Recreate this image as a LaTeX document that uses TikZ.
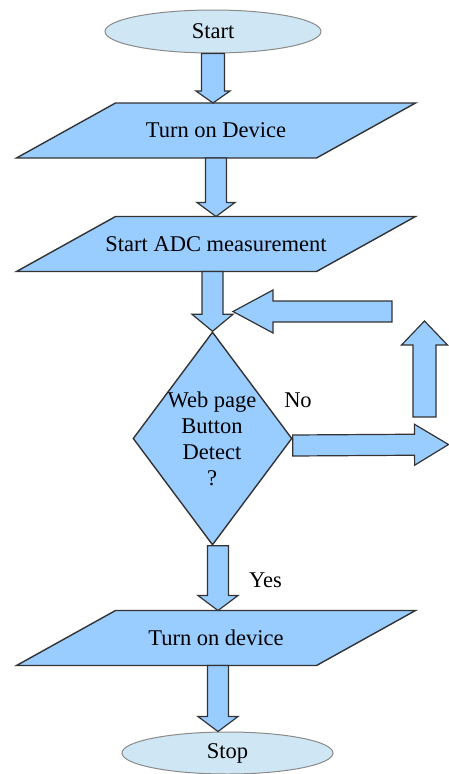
\documentclass[tikz,border=0pt]{standalone}
\usepackage{fontspec}
\setmainfont{Liberation Serif}
\newfontfamily\flowfont{Liberation Serif}
\usetikzlibrary{shapes.geometric,calc}

\definecolor{boxblue}{HTML}{99CCFF}
\definecolor{ovalblue}{HTML}{CFE6F4}
\definecolor{edgegrey}{HTML}{333333}
\definecolor{ovaledge}{HTML}{8A8A8A}

\tikzset{
  oval/.style={ellipse, draw=ovaledge, fill=ovalblue, line width=1pt,
    inner sep=0pt, font=\flowfont\fontsize{22.5}{26}\selectfont},
  ioshape/.style={draw=edgegrey, fill=boxblue, line width=1.4pt, line join=miter},
  decshape/.style={diamond, draw=edgegrey, fill=boxblue, line width=1.4pt,
    minimum width=159pt, minimum height=213pt, inner sep=0pt},
  blockarrow/.style={draw=edgegrey, fill=boxblue, line width=1.2pt, line join=miter},
  lbl/.style={font=\flowfont\fontsize{22.5}{26}\selectfont, inner sep=0pt, align=center}
}

% hollow block arrow: shaft half-width, head half-width, head length, tail, tip
\newcommand\blockarr[5]{%
  \path (#4) coordinate (ba-t) (#5) coordinate (ba-p);
  \path ($(ba-p)!#3!(ba-t)$) coordinate (ba-h);
  \draw[blockarrow] ($(ba-t)!#1!90:(ba-p)$) -- ($(ba-h)!#1!-90:(ba-t)$)
    -- ($(ba-h)!#2!-90:(ba-t)$) -- (ba-p) -- ($(ba-h)!#2!90:(ba-t)$)
    -- ($(ba-h)!#1!90:(ba-t)$) -- ($(ba-t)!#1!-90:(ba-p)$) -- cycle;}

% slanted input/output box: name, centre, text
\newcommand\ioparal[3]{%
  \coordinate (#1-c) at (#2);
  \draw[ioshape] ($(#1-c)+(-100.5,-27.5)$) -- ($(#1-c)+(199.5,-27.5)$)
    -- ($(#1-c)+(100.5,27.5)$) -- ($(#1-c)+(-199.5,27.5)$) -- cycle;
  \coordinate (#1-top) at ($(#1-c)+(0,-27.5)$);
  \coordinate (#1-bot) at ($(#1-c)+(0,27.5)$);
  \node[lbl] (#1) at (#1-c) {#3};}

\begin{document}
\begin{tikzpicture}[x=1pt, y=-1pt]
  \useasboundingbox (0,0) rectangle (449,774);

  % terminals
  \node[oval, minimum width=216pt, minimum height=43pt] (start) at (213,31.5) {Start};
  \node[oval, minimum width=211pt, minimum height=42pt] (stop) at (227.5,753) {Stop};

  % process boxes
  \ioparal{p1}{216,130.5}{Turn on Device}
  \ioparal{p2}{216,244}{Start ADC measurement}
  \ioparal{p3}{216,638}{Turn on device}

  % decision
  \node[decshape] (dec) at (212.5,438.5) {};
  \node[lbl] (dectext) at (212,439) {Web page\\Button\\Detect\\?};

  % main flow
  \blockarr{11.5pt}{17pt}{12pt}{start.south}{start.south |- p1-top}
  \blockarr{10.5pt}{19pt}{14pt}{p1-bot}{p1-bot |- p2-top}
  \blockarr{10.5pt}{20.5pt}{17pt}{dec.north |- p2-bot}{dec.north}
  \coordinate (yesx) at ($(dec.south)+(5.5,0)$);
  \blockarr{10.5pt}{20pt}{15pt}{yesx}{yesx |- p3-top}
  \coordinate (downx) at ($(p3-bot)+(2,0)$);
  \blockarr{10.5pt}{20pt}{15pt}{downx}{downx |- stop.north}

  % retry loop
  \coordinate (noout) at ($(dec.east)+(0,7)$);
  \coordinate (loopa) at (448.5,444.5);
  \coordinate (loopb) at (424.5,417);
  \coordinate (loopc) at (424.5,321);
  \coordinate (loopd) at (392,311.5);
  \coordinate (loope) at (233,311.5);
  \blockarr{10.5pt}{20.5pt}{34pt}{noout}{loopa}
  \blockarr{11.5pt}{23pt}{24pt}{loopb}{loopc}
  \blockarr{10.5pt}{21.5pt}{40pt}{loopd}{loope}

  % branch labels
  \node[lbl] (nolbl) at (298,400) {No};
  \node[lbl] (yeslbl) at (265.5,580) {Yes};
\end{tikzpicture}
\end{document}
